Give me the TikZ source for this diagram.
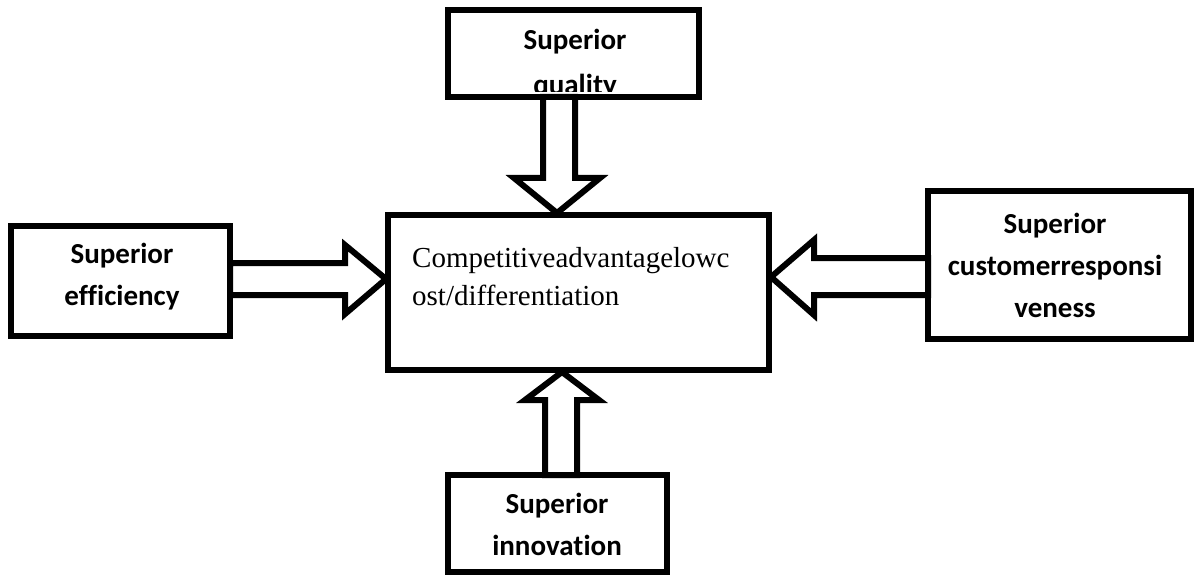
\documentclass[tikz,border=0pt]{standalone}
\usepackage{fontspec}
\setmainfont{Liberation Serif}[Ligatures={NoCommon}]
\newfontfamily\carlito{Carlito}[Ligatures={NoCommon}]
\usetikzlibrary{calc}
\begin{document}
\begin{tikzpicture}[x=1pt,y=-1pt,
  box/.style={draw,line width=6pt,fill=white,inner sep=0pt,outer sep=0pt},
  lab/.style={font=\carlito\bfseries\fontsize{29}{42}\selectfont,align=center,anchor=base,inner sep=0pt},
  blockarrow/.style={draw,line width=6pt,fill=white,line join=miter}]
\useasboundingbox (0,0) rectangle (1195,575);
% boxes
\node[box,minimum width=251pt,minimum height=87pt] (qual) at (573.5,53.5) {};
\node[box,minimum width=219pt,minimum height=110pt] (eff) at (120.5,281) {};
\node[box,minimum width=263pt,minimum height=148pt] (resp) at (1059.5,265) {};
\node[box,minimum width=219pt,minimum height=97pt] (innov) at (557.5,523.5) {};
\node[box,minimum width=381pt,minimum height=155pt] (comp) at (578.5,292.5) {};
% arrows
\draw[blockarrow] ($(qual.south)+(-30.5,0)$) |- ($(qual.south)+(-59.5,81)$)
  -- ($(comp.north)+(-21.5,-2)$) -- ($(qual.south)+(26.5,81)$) -| ($(qual.south)+(1.5,0)$) -- cycle;
\draw[blockarrow] ($(eff.east)+(0,-18)$) -| ($(eff.east)+(115,-36)$)
  -- ($(comp.west)+(-2,-13.5)$) -- ($(eff.east)+(115,33)$) |- ($(eff.east)+(0,14)$) -- cycle;
\draw[blockarrow] ($(resp.west)+(0,-7)$) -| ($(resp.west)+(-114,-25)$)
  -- ($(comp.east)+(2,-15.5)$) -- ($(resp.west)+(-114,50)$) |- ($(resp.west)+(0,30)$) -- cycle;
\draw[blockarrow] ($(innov.north)+(-12.5,0)$) |- ($(innov.north)+(-32.5,-75)$)
  -- ($(comp.south)+(-16.5,2)$) -- ($(innov.north)+(41.5,-75)$) -| ($(innov.north)+(19.5,0)$) -- cycle;
% texts
\begin{scope}
  \clip (451,13) rectangle (696,92);
  \node[lab,font=\carlito\bfseries\fontsize{29}{45}\selectfont] (tqual) at (575,95) {Superior\\quality};
\end{scope}
\node[lab] (teff) at (122,305) {Superior\\efficiency};
\node[lab] (tresp) at (1055,317) {Superior\\customerresponsi\\veness};
\node[lab] (tinnov) at (557,555) {Superior\\innovation};
\node[anchor=base west,inner sep=0pt,align=left,font=\fontsize{29}{38}\selectfont] (tcomp) at (412,305)
  {Competitiveadvantagelowc\\ost/differentiation};
\end{tikzpicture}
\end{document}
